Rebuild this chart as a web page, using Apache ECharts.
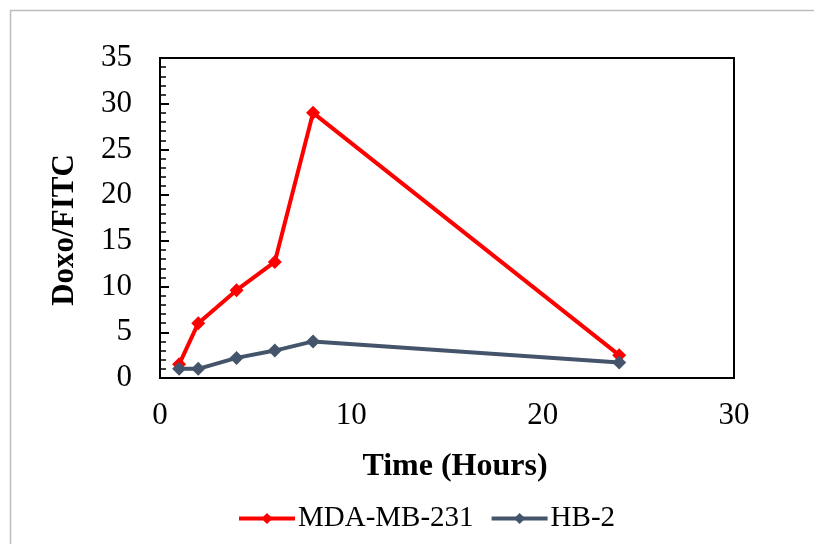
<!DOCTYPE html>
<html><head><meta charset="utf-8">
<script src="https://cdn.jsdelivr.net/npm/echarts@6/dist/echarts.min.js"></script>
<style>html,body{margin:0;padding:0;background:#fff}#c{width:814px;height:544px}</style>
</head><body><div id="c"></div>
<script>
const seriesNames = ['MDA-MB-231', 'HB-2'];
const timeHours = [1, 2, 4, 6, 8, 24];
const mdaValues = [1.5, 6.0, 9.6, 12.7, 29.0, 2.5];
const hbValues = [1.0, 1.0, 2.2, 3.0, 4.0, 1.7];
const xTitle = 'Time (Hours)';
const yTitle = 'Doxo/FITC';

const font = '"Liberation Serif", "Times New Roman", serif';
const chart = echarts.init(document.getElementById('c'), null, {renderer: 'canvas'});
const pair = (xs, ys) => xs.map((x, i) => [x, ys[i]]);
chart.setOption({
  animation: false,
  backgroundColor: '#fff',
  grid: {left: 160, top: 58, right: 80, bottom: 166, show: true, borderColor: '#000', borderWidth: 2, containLabel: false},
  xAxis: {
    type: 'value', min: 0, max: 30, interval: 10,
    axisLine: {show: true, onZero: false, lineStyle: {color: '#000', width: 2}},
    axisTick: {show: false},
    splitLine: {show: false},
    axisLabel: {color: '#000', fontFamily: font, fontSize: 31, margin: 22}
  },
  yAxis: {
    type: 'value', min: 0, max: 35, interval: 5,
    axisLine: {show: true, lineStyle: {color: '#000', width: 2}},
    axisTick: {show: true, inside: true, length: 9, lineStyle: {color: '#000', width: 2}},
    minorTick: {show: true, splitNumber: 5, length: 6, lineStyle: {color: '#000', width: 1.5}},
    splitLine: {show: false},
    axisLabel: {color: '#000', fontFamily: font, fontSize: 31, margin: 28}
  },
  legend: {
    bottom: 6, left: 232, itemGap: 16, itemWidth: 56, itemHeight: 14,
    lineStyle: {width: 4},
    textStyle: {color: '#000', fontFamily: font, fontSize: 29, padding: [0, 0, 0, -2]},
    data: seriesNames
  },
  graphic: [
    {type: 'rect', shape: {x: 10.5, y: 10.5, width: 820, height: 560}, style: {fill: 'none', stroke: '#bdbdbd', lineWidth: 1.5}, silent: true, z: -1},
    {type: 'text', x: 455, y: 467, style: {text: xTitle, fontFamily: font, fontSize: 32, fontWeight: 'bold', fill: '#000', textAlign: 'center', textVerticalAlign: 'middle'}},
    {type: 'text', x: 65, y: 230, rotation: Math.PI / 2, style: {text: yTitle, fontFamily: font, fontSize: 31, fontWeight: 'bold', fill: '#000', textAlign: 'center', textVerticalAlign: 'middle'}}
  ],
  series: [
    {name: seriesNames[0], type: 'line', data: pair(timeHours, mdaValues), color: '#ff0000',
     symbol: 'diamond', symbolSize: 14, lineStyle: {width: 4, color: '#ff0000'}, itemStyle: {color: '#ff0000'}},
    {name: seriesNames[1], type: 'line', data: pair(timeHours, hbValues), color: '#44546a',
     symbol: 'diamond', symbolSize: 14, lineStyle: {width: 4, color: '#44546a'}, itemStyle: {color: '#44546a'}}
  ]
});
</script></body></html>
